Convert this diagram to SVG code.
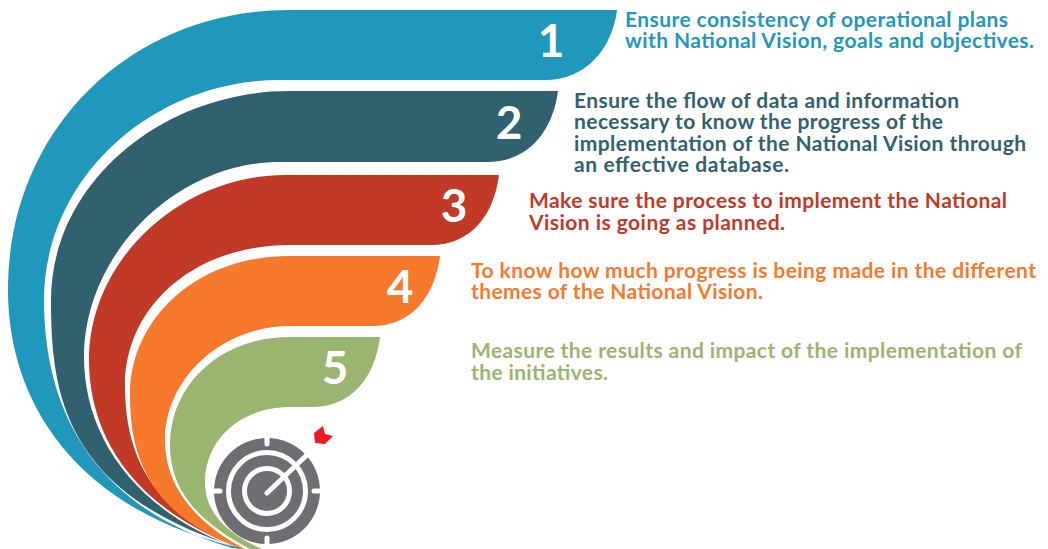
<svg xmlns="http://www.w3.org/2000/svg" width="1048" height="549" viewBox="0 0 1048 549">
<style>
text{font-family:Lato,"Open Sans",sans-serif;font-weight:700;font-size:21px}
.n{font-size:46px;fill:#fff;text-anchor:middle}
.a{fill:#1f98bb}.b{fill:#31606f}.c{fill:#c13927}.d{fill:#f6792c}.e{fill:#9ab56f}
.w{fill:none;stroke:#fff;stroke-width:5;stroke-linecap:round}
</style>
<rect width="1048" height="549" fill="#fff"/>
<g id="band1">
<path class="a" d="M617 10L290 10C130 10 8 130 8 290C8 410 85 515 245 549L232 548C85 505 44 400 44 300C44 180 150 80 280 80H545C585 80 612 50 617 10Z"/>
<text class="n" x="551" y="57">1</text>
<text class="a" x="625" y="26.500" textLength="383">Ensure consistency of operational plans</text>
<text class="a" x="625" y="48" textLength="409">with National Vision, goals and objectives.</text>
</g>
<g id="band2">
<path class="b" d="M558 91L290 91C160 91 51 185 51 300C51 395 65 495 240 548L240 549C130 510 84 432 84 357C84 255 175 162 280 162H488C528 162 553 131 558 91Z"/>
<text class="n" x="509" y="139">2</text>
<text class="b" x="574" y="108" textLength="385">Ensure the flow of data and information</text>
<text class="b" x="574" y="129" textLength="369">necessary to know the progress of the</text>
<text class="b" x="574" y="151" textLength="452">implementation of the National Vision through</text>
<text class="b" x="574" y="172" textLength="215">an effective database.</text>
</g>
<g id="band3">
<path class="c" d="M499 175L285 175C180 175 89 260 89 360C89 425 122 505 243 549C140 510 125 440 125 385C125 310 190 245 290 245H431C471 245 494 215 499 175Z"/>
<text class="n" x="454" y="222">3</text>
<text class="c" x="529" y="208" textLength="478">Make sure the process to implement the National</text>
<text class="c" x="529" y="230" textLength="256">Vision is going as planned.</text>
</g>
<g id="band4">
<path class="d" d="M440 256L290 256C195 256 130 320 130 395C130 450 145 515 243 549H245C200 525 165 490 165 440C165 380 220 326 290 326H372C412 326 435 296 440 256Z"/>
<text class="n" x="400" y="303">4</text>
<text class="d" x="471" y="278" textLength="565">To know how much progress is being made in the different</text>
<text class="d" x="471" y="299" textLength="292">themes of the National Vision.</text>
</g>
<g id="band5">
<path class="e" d="M380 337L290 337C220 337 170 385 170 445C170 495 205 525 250 549H262C230 535 205 515 205 482C205 440 240 407 290 407H312C352 407 375 377 380 337Z"/>
<text class="n" x="335" y="384">5</text>
<text class="e" x="471" y="358" textLength="551">Measure the results and impact of the implementation of</text>
<text class="e" x="471" y="380" textLength="137">the initiatives.</text>
</g>
<g id="target">
<circle cx="267" cy="491" r="53" fill="#6d6e71"/>
<circle cx="267" cy="491" r="38.500" class="w"/>
<circle cx="267" cy="491" r="22.500" class="w"/>
<path class="w" d="M267 435v9M267 538v9M212 491h8M314 491h8M267 493L310 452"/>
<path d="M314 433L323 426L325 434L333 436L325 444L315 443Z" fill="#ed1c24"/>
</g>
</svg>
